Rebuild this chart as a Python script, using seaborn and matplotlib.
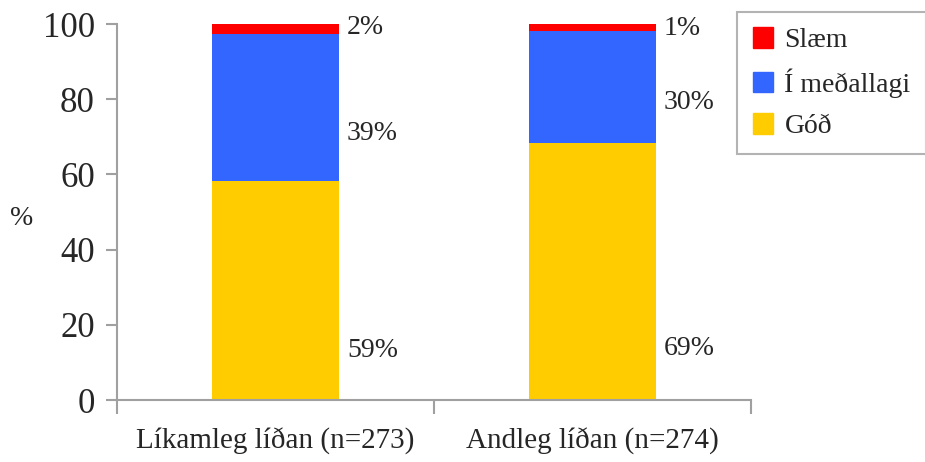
import matplotlib
matplotlib.use('Agg')
import matplotlib.pyplot as plt
import matplotlib.patches as mpatches
import seaborn as sns
import pandas as pd
import numpy as np

# gögn
flokkar = ['Líkamleg líðan (n=273)', 'Andleg líðan (n=274)']
god = [58.3, 68.4]
medallagi = [39.0, 29.7]
slaem = [2.7, 1.9]
merki_god = ['59%', '69%']
merki_med = ['39%', '30%']
merki_slaem = ['2%', '1%']
# hæð merkja (eins og í Excel myndinni)
merki_y_god = [13.3, 13.8]
merki_y_med = [71.0, 79.0]
merki_y_slaem = [99.0, 98.7]

litir = {'Slæm': '#ff0000', 'Í meðallagi': '#3366ff', 'Góð': '#ffcc00'}

sns.set_style('white')
plt.rcParams['font.family'] = ['Liberation Serif', 'DejaVu Serif']

fig = plt.figure(figsize=(9.25, 4.62), dpi=100)
ax = fig.add_axes([0.1265, 0.134, 0.6855, 0.814])

df = pd.DataFrame({'flokkur': flokkar, 'god': god, 'med': medallagi, 'slaem': slaem})
df['efst'] = df['god'] + df['med'] + df['slaem']
df['mid'] = df['god'] + df['med']

# staflaðar súlur: hæsta fyrst, svo lægri ofan á
sns.barplot(data=df, x='flokkur', y='efst', color=litir['Slæm'], width=0.4,
            saturation=1, linewidth=0, ax=ax)
sns.barplot(data=df, x='flokkur', y='mid', color=litir['Í meðallagi'], width=0.4,
            saturation=1, linewidth=0, ax=ax)
sns.barplot(data=df, x='flokkur', y='god', color=litir['Góð'], width=0.4,
            saturation=1, linewidth=0, ax=ax)

for i in range(len(flokkar)):
    ax.text(i + 0.225, merki_y_god[i], merki_god[i], fontsize=20, va='center', ha='left')
    ax.text(i + 0.225, merki_y_med[i], merki_med[i], fontsize=20, va='center', ha='left')
    ax.text(i + 0.225, merki_y_slaem[i], merki_slaem[i], fontsize=20, va='center', ha='left')

ax.set_xlim(-0.5, 1.5)
ax.set_ylim(0, 100)
ax.set_yticks(np.arange(0, 101, 20))
ax.tick_params(axis='y', labelsize=25, length=8, width=1.5, color='#a0a0a0',
               direction='out', left=True, pad=8)
ax.set_xticks([0, 1])
ax.set_xticklabels(flokkar, fontsize=21)
ax.tick_params(axis='x', length=0, pad=20)
ax.set_xticks([-0.5, 0.5, 1.5], minor=True)
ax.tick_params(axis='x', which='minor', length=10, width=1.5, color='#a0a0a0',
               direction='out', bottom=True)
ax.set_xlabel('')
ax.set_ylabel('%', fontsize=20, rotation=0, va='center', ha='center')
ax.yaxis.set_label_coords(-0.15, 0.484)

for s in ['top', 'right']:
    ax.spines[s].set_visible(False)
for s in ['left', 'bottom']:
    ax.spines[s].set_color('#a0a0a0')
    ax.spines[s].set_linewidth(1.5)

handles = [mpatches.Patch(color=litir[k], label=k) for k in ['Slæm', 'Í meðallagi', 'Góð']]
leg = fig.legend(handles=handles, loc='upper left', bbox_to_anchor=(0.797, 0.974),
                 fontsize=20, frameon=True, fancybox=False, handlelength=0.75,
                 handleheight=0.75, handletextpad=0.4, labelspacing=0.55,
                 borderpad=0.55, borderaxespad=0)
leg.get_frame().set_edgecolor('#a0a0a0')
leg.get_frame().set_linewidth(1.5)

fig.savefig('out.png', dpi=100)
